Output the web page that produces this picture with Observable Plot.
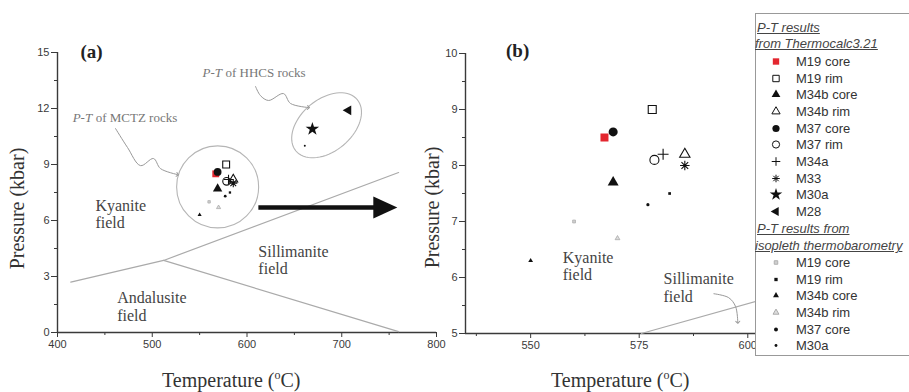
<!DOCTYPE html>
<html><head><meta charset="utf-8">
<script src="https://cdn.jsdelivr.net/npm/d3@7"></script>
<script src="https://cdn.jsdelivr.net/npm/@observablehq/plot@0.6"></script>
<style>
body{margin:0;background:#fff;}
#wrap{position:relative;width:909px;height:392px;overflow:hidden;font-family:"Liberation Serif","Times New Roman",serif;background:#fff;}
.lbl{position:absolute;font-size:20px;color:#333;white-space:nowrap;}
.lbl sup{font-size:12px;}
#legend{position:absolute;left:755px;top:13px;width:170px;height:341px;border:1px solid #999;background:#fff;font-family:"Liberation Sans",Arial,sans-serif;font-size:13px;color:#333;}
#legend .row{position:absolute;left:0;height:17px;line-height:17px;white-space:nowrap;}
#legend .hd{font-style:italic;text-decoration:underline;color:#444;}
</style></head><body><div id="wrap"></div><script>
// ---------- data ----------
const thermoSamples = ["M19 core","M19 rim","M34b core","M34b rim","M37 core","M37 rim","M34a","M33","M30a","M28"];
const thermoT = [567, 578, 569, 585.5, 569, 578.5, 580.5, 585.5, 669, 707];
const thermoP = [8.5, 9.0, 7.7, 8.2, 8.6, 8.1, 8.2, 8.0, 10.9, 11.9];
const isoSamples = ["M19 core","M19 rim","M34b core","M34b rim","M37 core","M30a"];
const isoT = [560, 582, 550, 570, 577, 661];
const isoP = [7.0, 7.5, 6.3, 6.7, 7.3, 10.0];
// Al2SiO5 phase boundaries (T °C, P kbar)
const kyAndT = [414, 512], kyAndP = [2.7, 3.86];
const kySilT = [512, 760], kySilP = [3.86, 8.57];
const andSilT = [512, 760], andSilP = [3.86, 0.05];
const kySilBT = [575.5, 605], kySilBP = [5.0, 5.64];
// tick labels
const xTicksA = [400, 500, 600, 700, 800], xMinorA = [450, 550, 650, 750];
const yTicksA = [0, 3, 6, 9, 12, 15], yMinorA = [1.5, 4.5, 7.5, 10.5, 13.5];
const xTicksB = [550, 575, 600], xMinorB = [537.5, 562.5, 587.5];
const yTicksB = [5, 6, 7, 8, 9, 10], yMinorB = [5.5, 6.5, 7.5, 8.5, 9.5];
// annotations (data units)
const mctzArrow = [[461.2,10.93],[473.9,9.91],[487.6,8.94],[501.3,9.32],[508.7,8.78],[526.6,8.46]];
const hhcsArrow = [[609,13.18],[614.2,12.69],[622.7,12.43],[638.5,12.8],[645.9,12.27],[664.9,12.05]];
const silArrowB = [[592.2,5.71],[595.6,5.64],[597.2,5.48],[597.7,5.2]];
const mctzCircle = [[569, 7.8]];
const hhcsEllipse = [[684, 11.1]];

// ---------- styles ----------
const asterisk8 = {draw(ctx, size){const r = Math.sqrt(size/Math.PI)*1.05; for(let i=0;i<4;i++){const a=i*Math.PI/4, c=Math.cos(a)*r, s=Math.sin(a)*r; ctx.moveTo(c,s); ctx.lineTo(-c,-s);}}};
const ellipseSym = {draw(ctx){const a=40,b=26,th=-40*Math.PI/180,n=72; for(let i=0;i<=n;i++){const t=2*Math.PI*i/n, x=a*Math.cos(t), y=b*Math.sin(t); const X=x*Math.cos(th)-y*Math.sin(th), Y=x*Math.sin(th)+y*Math.cos(th); if(i===0) ctx.moveTo(X,Y); else ctx.lineTo(X,Y);} ctx.closePath();}};
const headSym = {draw(ctx){ctx.moveTo(12,0);ctx.lineTo(-12,-11);ctx.lineTo(-12,11);ctx.closePath();}};
const thermoStyle = {
  "M19 core": {symbol:"square", fill:"#e3262f", stroke:"none", k:1},
  "M19 rim": {symbol:"square", fill:"none", stroke:"#111", k:1},
  "M34b core": {symbol:"triangle", fill:"#111", stroke:"none", k:0.9},
  "M34b rim": {symbol:"triangle", fill:"none", stroke:"#111", k:0.85},
  "M37 core": {symbol:"circle", fill:"#111", stroke:"none", k:1},
  "M37 rim": {symbol:"circle", fill:"none", stroke:"#111", k:1},
  "M34a": {symbol:"plus", fill:"none", stroke:"#111", k:0.8},
  "M33": {symbol:asterisk8, fill:"none", stroke:"#111", k:1},
  "M30a": {symbol:"star", fill:"#111", stroke:"none", k:1.1},
  "M28": {symbol:"triangle", fill:"#111", stroke:"none", k:0.95, rotate:-90}
};
const isoStyle = {
  "M19 core": {symbol:"square", fill:"#cfcfcf", stroke:"#b0b0b0", r:1.8},
  "M19 rim": {symbol:"square", fill:"#111", stroke:"none", r:1.7},
  "M34b core": {symbol:"triangle", fill:"#111", stroke:"none", r:2},
  "M34b rim": {symbol:"triangle", fill:"#ddd", stroke:"#aaa", r:2},
  "M37 core": {symbol:"circle", fill:"#111", stroke:"none", r:1.8},
  "M30a": {symbol:"circle", fill:"#111", stroke:"none", r:1.3}
};
const thermoRows = thermoSamples.map((s,i)=>({s, T:thermoT[i], P:thermoP[i]}));
const isoRows = isoSamples.map((s,i)=>({s, T:isoT[i], P:isoP[i]}));
const segs = (T,P)=>T.map((t,i)=>({T:t,P:P[i]}));

function pointMarks(xd, yd, scale){
  const inD = d => d.T>=xd[0] && d.T<=xd[1] && d.P>=yd[0] && d.P<=yd[1];
  const marks = [];
  isoRows.filter(inD).forEach(d=>{const st=isoStyle[d.s]; marks.push(Plot.dot([d],{x:"T",y:"P",symbol:st.symbol,fill:st.fill,stroke:st.stroke,r:st.r*scale*0.85,strokeWidth:0.8}));});
  thermoRows.filter(inD).forEach(d=>{const st=thermoStyle[d.s]; marks.push(Plot.dot([d],{x:"T",y:"P",symbol:st.symbol,fill:st.fill,stroke:st.stroke,r:4.3*st.k*scale,strokeWidth:1.1,rotate:st.rotate||0}));});
  return marks;
}
const txtFont = "Liberation Serif, Times New Roman, serif";
const axisStyle = {background:"transparent", color:"#3a3a3a", fontFamily:"Liberation Sans, Arial, sans-serif", fontSize:"11px", overflow:"visible"};
const intFmt = d3.format("d");
const wrap = document.getElementById("wrap");

// ---------- panel (a) ----------
const plotA = Plot.plot({
  width:445, height:392, marginLeft:57, marginRight:9, marginTop:52, marginBottom:60,
  x:{domain:[400,800]}, y:{domain:[0,15]},
  style:axisStyle,
  marks:[
    Plot.axisX(xTicksA,{tickSize:5, tickPadding:3, label:null, fontSize:11, tickFormat:intFmt}),
    Plot.axisX(xMinorA,{tickSize:3, tickFormat:()=>"", label:null}),
    Plot.axisY(yTicksA,{tickSize:6, tickPadding:2, label:null, fontSize:11, tickFormat:intFmt}),
    Plot.axisY(yMinorA,{tickSize:3, tickFormat:()=>"", label:null}),
    Plot.ruleX([400],{stroke:"#3a3a3a", strokeWidth:1.4}),
    Plot.ruleY([0],{stroke:"#3a3a3a", strokeWidth:1.4}),
    Plot.line(segs(kyAndT,kyAndP),{x:"T",y:"P",stroke:"#aaa",strokeWidth:1.2}),
    Plot.line(segs(kySilT,kySilP),{x:"T",y:"P",stroke:"#aaa",strokeWidth:1.2}),
    Plot.line(segs(andSilT,andSilP),{x:"T",y:"P",stroke:"#aaa",strokeWidth:1.2}),
    Plot.dot(mctzCircle,{x:d=>d[0],y:d=>d[1],r:41,fill:"none",stroke:"#b5b5b5",strokeWidth:1.1}),
    Plot.dot(hhcsEllipse,{x:d=>d[0],y:d=>d[1],symbol:ellipseSym,fill:"none",stroke:"#b5b5b5",strokeWidth:1.1}),
    Plot.line(mctzArrow,{x:d=>d[0],y:d=>d[1],curve:"catmull-rom",stroke:"#999",strokeWidth:1,markerEnd:"arrow"}),
    Plot.line(hhcsArrow,{x:d=>d[0],y:d=>d[1],curve:"catmull-rom",stroke:"#999",strokeWidth:1,markerEnd:"arrow"}),
    Plot.link([{x1:612,x2:742,y:6.7}],{x1:"x1",x2:"x2",y1:"y",y2:"y",stroke:"#111",strokeWidth:4.5}),
    Plot.dot([{x:746,y:6.7}],{x:"x",y:"y",symbol:headSym,fill:"#111",stroke:"none"}),
    Plot.text(["(a)"],{x:436,y:15.05,fontFamily:txtFont,fontWeight:"bold",fontSize:19,fill:"#222",textAnchor:"middle"}),
    Plot.text(["Kyanite\nfield"],{x:440,y:6.35,fontFamily:txtFont,fontSize:16,fill:"#444",textAnchor:"start",lineAnchor:"middle",lineHeight:1.08}),
    Plot.text(["Sillimanite\nfield"],{x:612,y:3.9,fontFamily:txtFont,fontSize:16,fill:"#444",textAnchor:"start",lineAnchor:"middle",lineHeight:1.08}),
    Plot.text(["Andalusite\nfield"],{x:463,y:1.4,fontFamily:txtFont,fontSize:16,fill:"#444",textAnchor:"start",lineAnchor:"middle",lineHeight:1.08}),
    Plot.text(["P-T"],{x:416,y:11.5,fontFamily:txtFont,fontStyle:"italic",fontSize:13,fill:"#777",textAnchor:"start"}),
    Plot.text(["of MCTZ rocks"],{x:416,y:11.5,dx:23,fontFamily:txtFont,fontSize:13,fill:"#777",textAnchor:"start"}),
    Plot.text(["P-T"],{x:553,y:13.9,fontFamily:txtFont,fontStyle:"italic",fontSize:13,fill:"#777",textAnchor:"start"}),
    Plot.text(["of HHCS rocks"],{x:553,y:13.9,dx:23,fontFamily:txtFont,fontSize:13,fill:"#777",textAnchor:"start"}),
    ...pointMarks([400,800],[0,15],0.9)
  ]
});
plotA.style.position="absolute"; plotA.style.left="0px"; plotA.style.top="0px";
wrap.appendChild(plotA);

// ---------- panel (b) ----------
const plotB = Plot.plot({
  width:509, height:392, marginLeft:65, marginRight:140, marginTop:53, marginBottom:59,
  x:{domain:[535,605]}, y:{domain:[5,10]},
  style:axisStyle,
  marks:[
    Plot.axisX(xTicksB,{tickSize:5, tickPadding:3, label:null, fontSize:11, tickFormat:intFmt}),
    Plot.axisX(xMinorB,{tickSize:3, tickFormat:()=>"", label:null}),
    Plot.axisY(yTicksB,{tickSize:6, tickPadding:2, label:null, fontSize:11, tickFormat:intFmt}),
    Plot.axisY(yMinorB,{tickSize:3, tickFormat:()=>"", label:null}),
    Plot.ruleX([535],{stroke:"#3a3a3a", strokeWidth:1.4}),
    Plot.ruleY([5],{stroke:"#3a3a3a", strokeWidth:1.4}),
    Plot.line(segs(kySilBT,kySilBP),{x:"T",y:"P",stroke:"#aaa",strokeWidth:1.2}),
    Plot.line(silArrowB,{x:d=>d[0],y:d=>d[1],curve:"catmull-rom",stroke:"#999",strokeWidth:1,markerEnd:"arrow"}),
    Plot.text(["(b)"],{x:547,y:10.05,fontFamily:txtFont,fontWeight:"bold",fontSize:19,fill:"#222",textAnchor:"middle"}),
    Plot.text(["Kyanite\nfield"],{x:557.4,y:6.2,fontFamily:txtFont,fontSize:16,fill:"#444",textAnchor:"start",lineAnchor:"middle",lineHeight:1.08}),
    Plot.text(["Sillimanite\nfield"],{x:580.6,y:5.82,fontFamily:txtFont,fontSize:16,fill:"#444",textAnchor:"start",lineAnchor:"middle",lineHeight:1.08}),
    ...pointMarks([535,605],[5,10],1.05)
  ]
});
plotB.style.position="absolute"; plotB.style.left="400px"; plotB.style.top="0px";
wrap.appendChild(plotB);

// ---------- axis titles ----------
function lbl(html, cx, cy, rot){
  const d = document.createElement("div"); d.className="lbl"; d.innerHTML=html;
  wrap.appendChild(d);
  const w = d.offsetWidth, h = d.offsetHeight;
  d.style.left = (cx - w/2) + "px"; d.style.top = (cy - h/2) + "px";
  if (rot) d.style.transform = "rotate(-90deg)";
}
lbl("Temperature (<sup>o</sup>C)", 231, 380);
lbl("Temperature (<sup>o</sup>C)", 620, 380);
lbl("Pressure (kbar)", 18, 208, true);
lbl("Pressure (kbar)", 433, 207, true);

// ---------- legend ----------
const leg = document.createElement("div"); leg.id="legend"; wrap.appendChild(leg);
function legRow(top, html, cls){
  const r=document.createElement("div"); r.className="row "+(cls||""); r.style.top=top+"px"; r.innerHTML=html; leg.appendChild(r); return r;
}
const symMap = {square:d3.symbolSquare, triangle:d3.symbolTriangle, circle:d3.symbolCircle, plus:d3.symbolPlus, star:d3.symbolStar};
function symSvg(st, r){
  const type = typeof st.symbol === "string" ? symMap[st.symbol] : st.symbol;
  const path = d3.symbol(type, Math.PI*r*r)();
  const strokeSym = st.symbol==="plus"||st.symbol===asterisk8;
  const stroke = st.stroke && st.stroke!=="none" ? st.stroke : (strokeSym ? "#111" : "none");
  const fill = strokeSym ? "none" : st.fill;
  return `<svg width="16" height="17" style="position:absolute;left:12px;top:0"><path d="${path}" transform="translate(8,8.5) rotate(${st.rotate||0})" fill="${fill}" stroke="${stroke}" stroke-width="1"/></svg>`;
}
legRow(5, "P-T results", "hd").style.left="1px";
legRow(21, "from Thermocalc3.21", "hd").style.left="-1px";
thermoSamples.forEach((s,i)=>{
  const st = thermoStyle[s];
  legRow(39 + i*16.65, symSvg(st, 3.6*st.k) + `<span style="position:absolute;left:40px">${s}</span>`);
});
legRow(206, "P-T results from", "hd").style.left="1px";
legRow(223, "isopleth thermobarometry", "hd").style.left="-1px";
isoSamples.forEach((s,i)=>{
  const st = isoStyle[s];
  legRow(240 + i*16.65, symSvg(st, st.r*1.1) + `<span style="position:absolute;left:40px">${s}</span>`);
});
</script></body></html>
